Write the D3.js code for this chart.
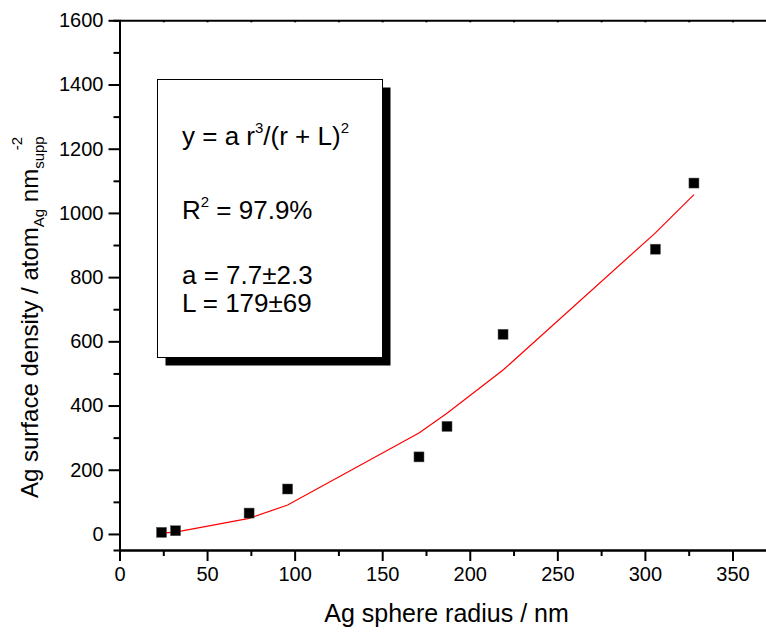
<!DOCTYPE html>
<html>
<head>
<meta charset="utf-8">
<script src="https://cdn.jsdelivr.net/npm/d3@7"></script>
<style>
  html, body { margin: 0; padding: 0; background: #fff; }
  svg { display: block; font-family: "Liberation Sans", Arial, Helvetica, sans-serif; }
</style>
</head>
<body>
<svg id="chart" width="766" height="633"></svg>
<script>
// ---- data ----
const radius = [24, 32, 74, 96, 171, 187, 219, 306, 328];
const density = [5, 10, 65, 140, 240, 335, 622, 887, 1093];
const fitRadius = [24, 32, 74, 96, 171, 187, 219, 306, 328];
const fitDensity = [2.6, 5.7, 48.7, 90.1, 314.3, 375.9, 510.6, 937.9, 1057];
const xMajorTicks = [0, 50, 100, 150, 200, 250, 300, 350];
const yMajorTicks = [0, 200, 400, 600, 800, 1000, 1200, 1400, 1600];
const xMinorTicks = [25, 75, 125, 175, 225, 275, 325];
const yMinorTicks = [100, 300, 500, 700, 900, 1100, 1300, 1500];
const boxLines = ["y = a r³/(r + L)²", "R² = 97.9%", "a = 7.7±2.3", "L = 179±69"];

const svg = d3.select("#chart");
const x = d3.scaleLinear().domain([0, 370]).range([119.5, 767.5]);
const y = d3.scaleLinear().domain([-50, 1600]).range([550, 20.3]);

const axisColor = "#000";
// bottom axis
const gx = svg.append("g").attr("transform", "translate(0,550)");
gx.call(d3.axisBottom(x).tickValues(xMajorTicks).tickSize(11).tickSizeOuter(0).tickPadding(6).tickFormat(d3.format("d")));
gx.append("g").call(d3.axisBottom(x).tickValues(xMinorTicks).tickSize(6).tickFormat(""));
// left axis
const gy = svg.append("g").attr("transform", "translate(119.5,0)");
gy.call(d3.axisLeft(y).tickValues(yMajorTicks).tickSize(11).tickSizeOuter(0).tickPadding(5).tickFormat(d3.format("d")));
gy.append("g").call(d3.axisLeft(y).tickValues(yMinorTicks).tickSize(6).tickFormat(""));
// top axis (small inward ticks)
const gt = svg.append("g").attr("transform", "translate(0,20.3)");
gt.call(d3.axisBottom(x).tickValues(xMajorTicks.concat(xMinorTicks).filter(v => v > 0)).tickSize(2).tickSizeOuter(0).tickFormat(""));

svg.selectAll(".domain").attr("stroke", axisColor).attr("stroke-width", 2);
svg.selectAll(".tick line").attr("stroke", axisColor).attr("stroke-width", 2);
svg.selectAll(".tick text").attr("font-size", 20).attr("fill", "#000")
  .attr("font-family", "'Liberation Sans', Arial, sans-serif");

// fit line
svg.append("path")
  .datum(fitRadius.map((r, i) => [r, fitDensity[i]]))
  .attr("fill", "none").attr("stroke", "#ff0000").attr("stroke-width", 1.2)
  .attr("d", d3.line().x(d => x(d[0])).y(d => y(d[1])));

// markers
const ms = 10;
svg.selectAll("rect.pt").data(radius.map((r, i) => [r, density[i]])).enter()
  .append("rect").attr("class", "pt")
  .attr("x", d => x(d[0]) - ms / 2).attr("y", d => y(d[1]) - ms / 2)
  .attr("width", ms).attr("height", ms)
  .attr("fill", "#000").attr("stroke", "#555").attr("stroke-width", 0.5);

// text box with shadow
const bx = 157.5, by = 79.5, bw = 225, bh = 278, off = 8;
svg.append("rect").attr("x", bx + off).attr("y", by + off).attr("width", bw).attr("height", bh).attr("fill", "#000");
svg.append("rect").attr("x", bx).attr("y", by).attr("width", bw).attr("height", bh)
  .attr("fill", "#fff").attr("stroke", "#000").attr("stroke-width", 1);

const tx = 182, fs = 26;
// line 1
const t1 = svg.append("text").attr("x", tx).attr("y", 145).attr("font-size", fs);
t1.append("tspan").text("y = a r");
t1.append("tspan").attr("font-size", 15).attr("dy", -12).text("3");
t1.append("tspan").attr("dy", 12).text("/(r + L)");
t1.append("tspan").attr("font-size", 15).attr("dy", -12).text("2");
// line 2
const t2 = svg.append("text").attr("x", tx).attr("y", 219).attr("font-size", fs);
t2.append("tspan").text("R");
t2.append("tspan").attr("font-size", 15).attr("dy", -12).text("2");
t2.append("tspan").attr("dy", 12).text(" = 97.9%");
// lines 3, 4
svg.append("text").attr("x", tx).attr("y", 284).attr("font-size", fs).text(boxLines[2]);
svg.append("text").attr("x", tx).attr("y", 312).attr("font-size", fs).text(boxLines[3]);

// x axis title
svg.append("text").attr("x", 446.5).attr("y", 622).attr("text-anchor", "middle")
  .attr("font-size", 25).text("Ag sphere radius / nm");

// y axis title
const yt = svg.append("text").attr("transform", "translate(38,498) rotate(-90)")
  .attr("text-anchor", "start").attr("font-size", 24);
yt.append("tspan").text("Ag surface density / atom");
yt.append("tspan").attr("font-size", 15).attr("dy", 6).text("Ag");
yt.append("tspan").attr("dy", -6).text(" nm");
yt.append("tspan").attr("font-size", 15).attr("dy", 6).text("supp");
yt.append("tspan").attr("font-size", 15).attr("dy", -22).attr("dx", -14).text("-2");
</script>
</body>
</html>
